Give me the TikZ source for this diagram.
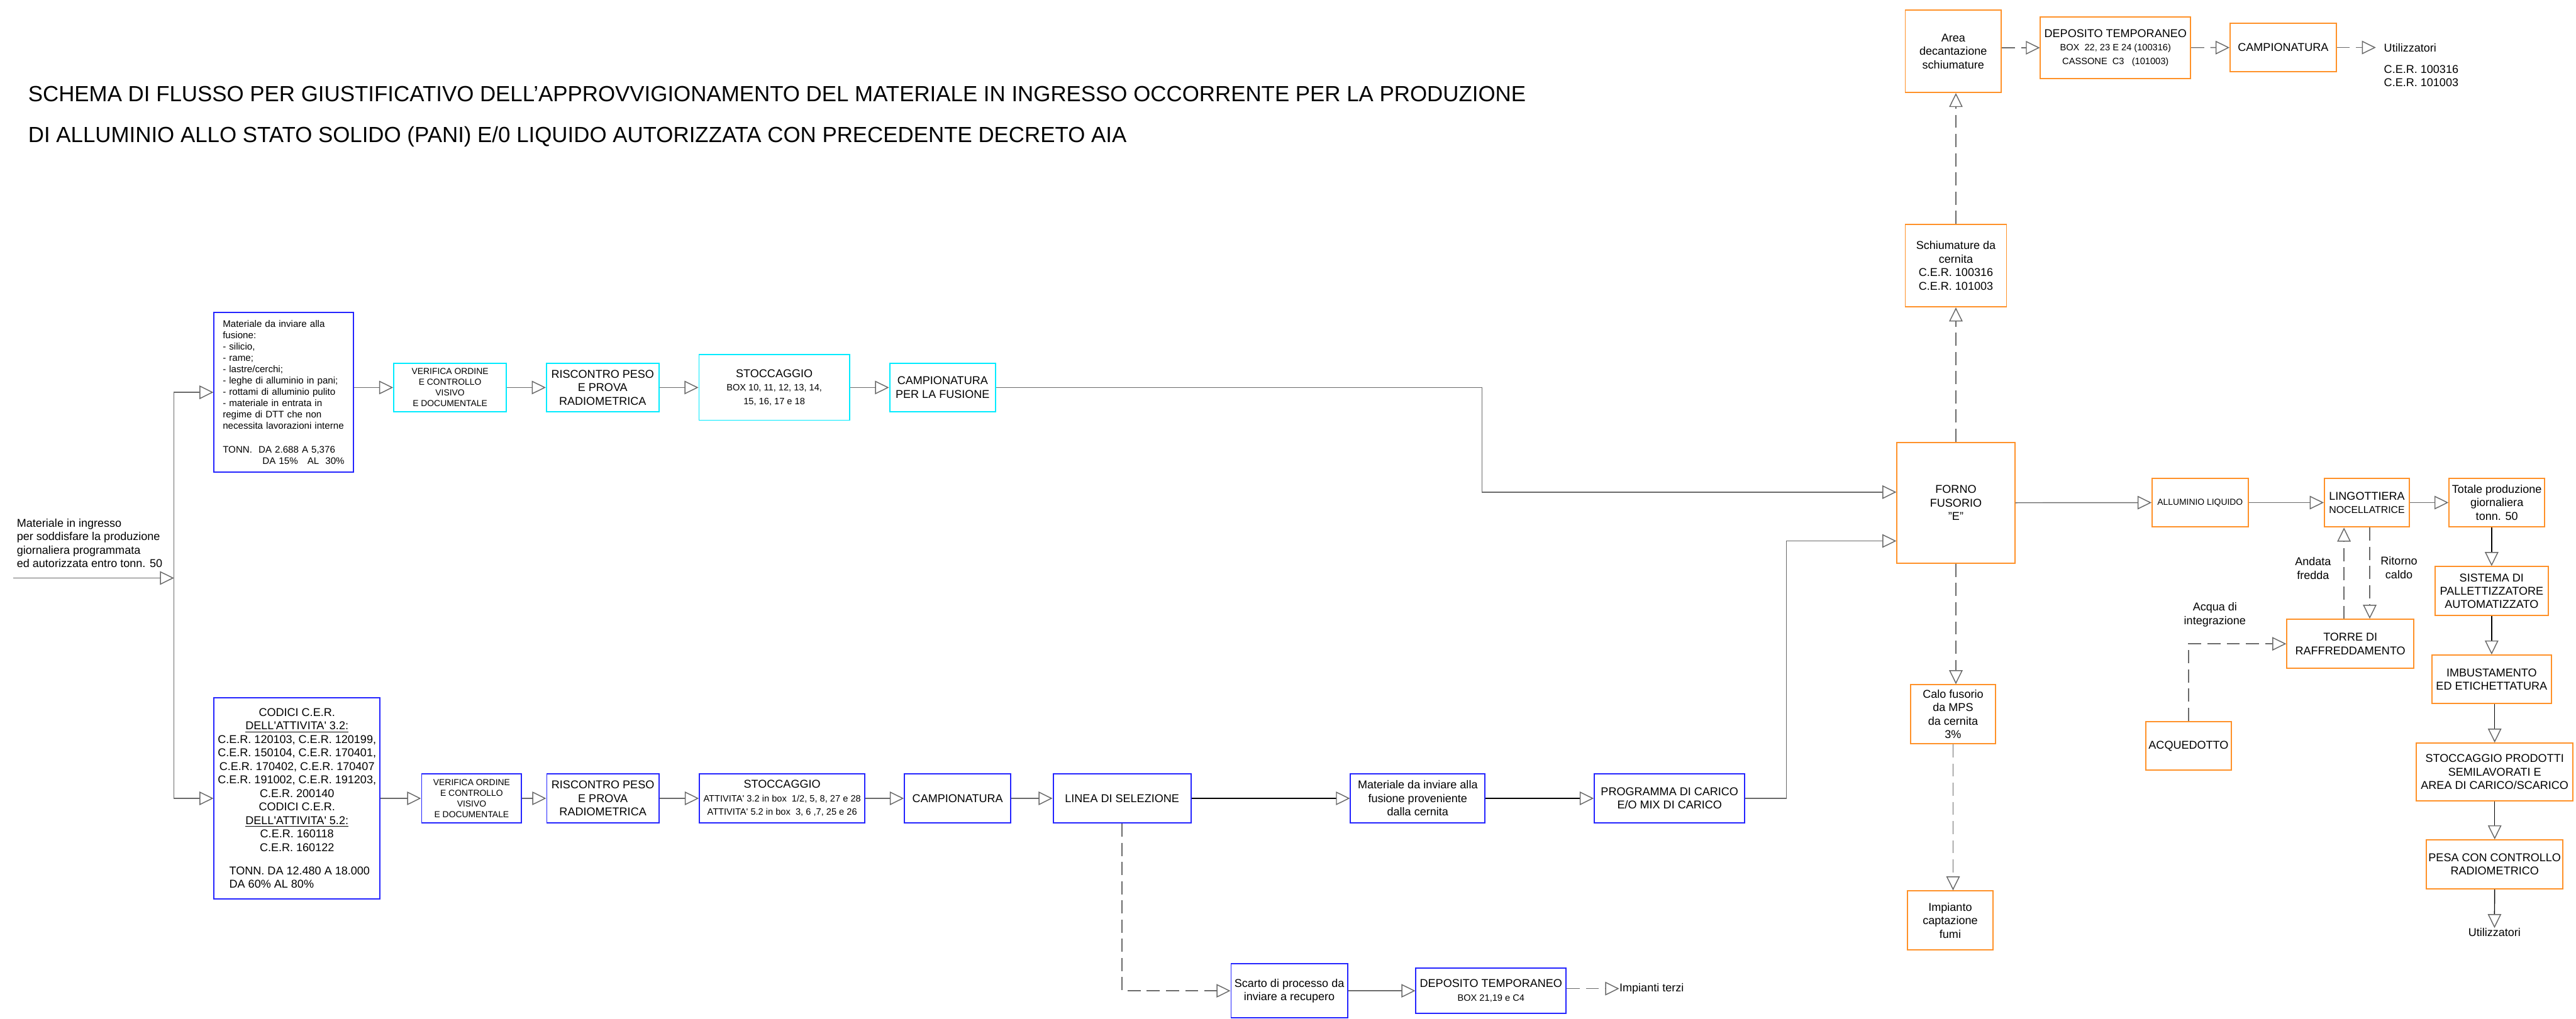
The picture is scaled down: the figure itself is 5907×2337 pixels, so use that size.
\documentclass[tikz,border=0pt]{standalone}
\usepackage{fontspec}
\setmainfont{Liberation Sans}
\usetikzlibrary{arrows.meta}
\definecolor{cadblu}{RGB}{35,35,255}
\definecolor{cadcya}{RGB}{0,235,255}
\definecolor{cadora}{RGB}{255,145,40}
\definecolor{cadgri}{RGB}{105,105,105}
\newcommand{\piccolo}{\fontsize{6.0}{7.2}\selectfont}
\newcommand{\nocel}{\fontsize{6.5}{7.6}\selectfont}
\begin{document}
\begin{tikzpicture}[x=0.01cm, y=-0.01cm,
    fa/.style={font=\fontsize{7.4}{8.8}\selectfont},
    fb/.style={font=\fontsize{5.7}{6.9}\selectfont},
    box/.style={rectangle, draw, line width=0.8pt, fill=white, align=center,
                inner xsep=0.04cm, inner ysep=0.04cm, fa},
    blubox/.style={box, draw=cadblu},
    cyabox/.style={box, draw=cadcya},
    orabox/.style={box, draw=cadora},
    flow/.style={draw=cadgri, line width=0.6pt,
                 -{Triangle[open, length=0.32cm, width=0.31cm, line width=0.6pt, color=cadgri]}},
    dflow/.style={flow, dash pattern=on 0.30cm off 0.14cm}]
   \useasboundingbox (0,0) rectangle (5907,2337);

   % titolo
   \node[anchor=west, inner sep=0, font=\fontsize{14.3}{17}\selectfont] (tit1) at (64,215)
      {SCHEMA DI FLUSSO PER GIUSTIFICATIVO DELL’APPROVVIGIONAMENTO DEL MATERIALE IN INGRESSO OCCORRENTE PER LA PRODUZIONE};
   \node[anchor=west, inner sep=0, font=\fontsize{14.3}{17}\selectfont] (tit2) at (64,313)
      {DI ALLUMINIO ALLO STATO SOLIDO (PANI) E/0 LIQUIDO AUTORIZZATA CON PRECEDENTE DECRETO AIA};

   % ingresso
   \node[fa, align=left, anchor=west, inner sep=0] (ingr) at (38,1246)
      {Materiale in ingresso\\per soddisfare la produzione\\giornaliera programmata\\ed autorizzata entro tonn. 50};
   \coordinate (in0) at (31,1326);
   \coordinate (nodo) at (399,1326);

   % linea superiore (MPS)
   \node[blubox, font=\fontsize{6.2}{7.4}\selectfont, align=left, text width=2.8cm, inner xsep=0.2cm,
         minimum width=3.20cm, minimum height=3.65cm] (mat) at (651,900)
      {Materiale da inviare alla\\fusione:\\- silicio,\\- rame;\\- lastre/cerchi;\\- leghe di alluminio in pani;\\- rottami di alluminio pulito\\- materiale in entrata in\\regime di DTT che non\\necessita lavorazioni interne\\[0.28cm]
       TONN.\ \ DA 2.688 A 5,376\\\hspace*{0.91cm}DA 15\%\ \ \ AL\ \ 30\%};
   \node[cyabox, fb, minimum width=2.58cm, minimum height=1.12cm] (vo1) at (1032,889)
      {VERIFICA ORDINE\\E CONTROLLO\\VISIVO\\E DOCUMENTALE};
   \node[cyabox, minimum width=2.58cm, minimum height=1.12cm] (rp1) at (1382,889)
      {RISCONTRO PESO\\E PROVA\\RADIOMETRICA};
   \node[cyabox, minimum width=3.45cm, minimum height=1.50cm] (st1) at (1775.5,889)
      {STOCCAGGIO\\\piccolo BOX 10, 11, 12, 13, 14,\\\piccolo 15, 16, 17 e 18};
   \node[cyabox, minimum width=2.43cm, minimum height=1.12cm] (cp1) at (2161.5,889)
      {CAMPIONATURA\\PER LA FUSIONE};

   % linea inferiore (rifiuti)
   \node[blubox, minimum width=3.80cm, minimum height=4.61cm] (cer) at (681,1831.5)
      {CODICI C.E.R.\\\underline{DELL\textquotesingle ATTIVITA\textquotesingle\ 3.2:}\\C.E.R. 120103, C.E.R. 120199,\\C.E.R. 150104, C.E.R. 170401,\\C.E.R. 170402, C.E.R. 170407\\C.E.R. 191002, C.E.R. 191203,\\C.E.R. 200140\\CODICI C.E.R.\\\underline{DELL\textquotesingle ATTIVITA\textquotesingle\ 5.2:}\\C.E.R. 160118\\C.E.R. 160122\\[0.23cm]
       \makebox[3.1cm][l]{TONN. DA 12.480 A 18.000}\\\makebox[3.1cm][l]{DA 60\% AL 80\%}};
   \node[blubox, fb, minimum width=2.29cm, minimum height=1.13cm] (vo2) at (1081.5,1831.5)
      {VERIFICA ORDINE\\E CONTROLLO\\VISIVO\\E DOCUMENTALE};
   \node[blubox, minimum width=2.57cm, minimum height=1.13cm] (rp2) at (1382.5,1831.5)
      {RISCONTRO PESO\\E PROVA\\RADIOMETRICA};
   \node[blubox, inner xsep=0, minimum width=3.79cm, minimum height=1.13cm] (st2) at (1793.5,1831.5)
      {STOCCAGGIO\\\piccolo ATTIVITA\textquotesingle\ 3.2 in box\ \ 1/2, 5, 8, 27 e 28\\\piccolo ATTIVITA\textquotesingle\ 5.2 in box\ \ 3, 6 ,7, 25 e 26};
   \node[blubox, minimum width=2.44cm, minimum height=1.13cm] (cp2) at (2196,1831.5) {CAMPIONATURA};
   \node[blubox, minimum width=3.16cm, minimum height=1.13cm] (lin) at (2573,1831.5) {LINEA DI SELEZIONE};
   \node[blubox, minimum width=3.08cm, minimum height=1.13cm] (mif) at (3251,1831.5)
      {Materiale da inviare alla\\fusione proveniente\\dalla cernita};
   \node[blubox, minimum width=3.45cm, minimum height=1.13cm] (prg) at (3828.5,1831.5)
      {PROGRAMMA DI CARICO\\E/O MIX DI CARICO};
   \node[blubox, minimum width=2.67cm, minimum height=1.24cm] (scr) at (2956.5,2273)
      {Scarto di processo da\\inviare a recupero};
   \node[blubox, minimum width=3.44cm, minimum height=1.04cm] (dep2) at (3419,2273)
      {DEPOSITO TEMPORANEO\\\piccolo BOX 21,19 e C4};
   \node[fa, anchor=west, inner sep=0] (imp3) at (3713,2268) {Impianti terzi};

   % forno e schiumature
   \node[orabox, minimum width=2.70cm, minimum height=2.77cm] (forno) at (4485,1153.5)
      {FORNO\\FUSORIO\\"E"};
   \node[orabox, minimum width=2.32cm, minimum height=1.89cm] (schiu) at (4485,609.5)
      {Schiumature da\\cernita\\C.E.R. 100316\\C.E.R. 101003};
   \node[orabox, minimum width=2.20cm, minimum height=1.89cm] (area) at (4479,117.5)
      {Area\\decantazione\\schiumature};
   \node[orabox, minimum width=3.44cm, minimum height=1.41cm] (dep1) at (4851,109.5)
      {DEPOSITO TEMPORANEO\\\piccolo BOX\ \ 22, 23 E 24 (100316)\\\piccolo CASSONE\ \ C3\ \ \ (101003)};
   \node[orabox, minimum width=2.43cm, minimum height=1.12cm] (cmp3) at (5235.5,109) {CAMPIONATURA};
   \node[fa, anchor=west, inner xsep=0.18cm, inner ysep=0] (ut1) at (5448,109) {Utilizzatori};
   \node[fa, anchor=west, align=left, inner sep=0] (cer3) at (5466,174.5) {C.E.R. 100316\\C.E.R. 101003};
   \node[orabox, minimum width=1.95cm, minimum height=1.35cm] (calo) at (4478.5,1638.5)
      {Calo fusorio\\da MPS\\da cernita\\3\%};
   \node[orabox, minimum width=1.96cm, minimum height=1.35cm] (capt) at (4472,2111.5)
      {Impianto\\captazione\\fumi};

   % produzione
   \node[orabox, fb, minimum width=2.20cm, minimum height=1.12cm] (alu) at (5045,1153) {ALLUMINIO LIQUIDO};
   \node[orabox, minimum width=1.95cm, minimum height=1.12cm] (ling) at (5427.5,1153)
      {LINGOTTIERA\\\nocel NOCELLATRICE};
   \node[orabox, minimum width=2.19cm, minimum height=1.12cm] (tot) at (5725.5,1153)
      {Totale produzione\\giornaliera\\tonn. 50};
   \node[orabox, minimum width=2.91cm, minimum height=1.12cm] (torre) at (5389.5,1477)
      {TORRE DI\\RAFFREDDAMENTO};
   \node[orabox, minimum width=1.95cm, minimum height=1.12cm] (acq) at (5018.5,1711) {ACQUEDOTTO};
   \node[orabox, minimum width=2.59cm, minimum height=1.12cm] (sis) at (5713.5,1356)
      {SISTEMA DI\\PALLETTIZZATORE\\AUTOMATIZZATO};
   \node[orabox, minimum width=2.73cm, minimum height=1.11cm] (imb) at (5713.5,1558.5)
      {IMBUSTAMENTO\\ED ETICHETTATURA};
   \node[orabox, minimum width=3.59cm, minimum height=1.32cm] (stp) at (5720.5,1771)
      {STOCCAGGIO PRODOTTI\\SEMILAVORATI E\\AREA DI CARICO/SCARICO};
   \node[orabox, minimum width=3.13cm, minimum height=1.12cm] (pes) at (5720.5,1983)
      {PESA CON CONTROLLO\\RADIOMETRICO};
   \node[fa, anchor=north, inner sep=0] (ut2) at (5720,2129) {Utilizzatori};
   \node[fa, align=center] (andata) at (5304,1304) {Andata\\fredda};
   \node[fa, align=center] (ritorno) at (5501,1302) {Ritorno\\caldo};
   \node[fa, align=center] (acqint) at (5079,1410) {Acqua di\\integrazione};

   % collegamenti a sinistra
   \draw[flow] (in0) -- (nodo);
   \draw[flow] (nodo) |- (mat.west);
   \draw[flow] (nodo) |- (cer.west);

   \draw[flow] (mat.east |- vo1) -- (vo1);
   \draw[flow] (vo1) -- (rp1);
   \draw[flow] (rp1) -- (st1);
   \draw[flow] (st1) -- (cp1);
   \draw[flow] (cp1) -- (3398,889) |- ([yshift=0.245cm]forno.west);

   \draw[flow] (cer) -- (vo2);
   \draw[flow] (vo2) -- (rp2);
   \draw[flow] (rp2) -- (st2);
   \draw[flow] (st2) -- (cp2);
   \draw[flow] (cp2) -- (lin);
   \draw[flow, draw=black, line width=1.2pt] (lin) -- (mif);
   \draw[flow, draw=black, line width=0.8pt] (mif) -- (prg);
   \draw[flow] (prg) -- (4096,1831.5) |- ([yshift=-0.875cm]forno.west);

   \draw[dflow] (lin.south) |- (scr.west);
   \draw[flow] (scr) -- (dep2);
   \draw[dflow] (dep2.east |- imp3) -- (imp3);

   % collegamenti a destra
   \draw[dflow] (forno.north) -- (forno.north |- schiu.south);
   \draw[dflow] (schiu.north) -- (schiu.north |- area.south);
   \draw[dflow] (area.east |- dep1) -- (dep1);
   \draw[dflow] (dep1) -- (cmp3);
   \draw[dflow] (cmp3) -- (ut1);
   \draw[dflow] (forno.south) -- (forno.south |- calo.north);
   \draw[dflow] (calo.south) -- (calo.south |- capt.north);

   \draw[flow] (forno) -- (alu);
   \draw[flow] (alu) -- (ling);
   \draw[flow] (ling) -- (tot);
   \draw[flow, draw=black] (tot.south -| sis.north) -- (sis.north);
   \draw[flow, draw=black] (sis) -- (imb);
   \draw[flow, draw=black] (imb.south -| stp.north) -- (stp.north);
   \draw[flow, draw=black] (stp) -- (pes);
   \draw[flow, draw=black] (pes) -- (ut2);

   \coordinate (tA) at ([xshift=-0.145cm]torre.north);
   \coordinate (tR) at ([xshift=0.445cm]torre.north);
   \draw[dflow] (tA) -- (tA |- ling.south);
   \draw[dflow] (tR |- ling.south) -- (tR);
   \draw[dflow] (acq.north) |- (torre.west);

\end{tikzpicture}
\end{document}
